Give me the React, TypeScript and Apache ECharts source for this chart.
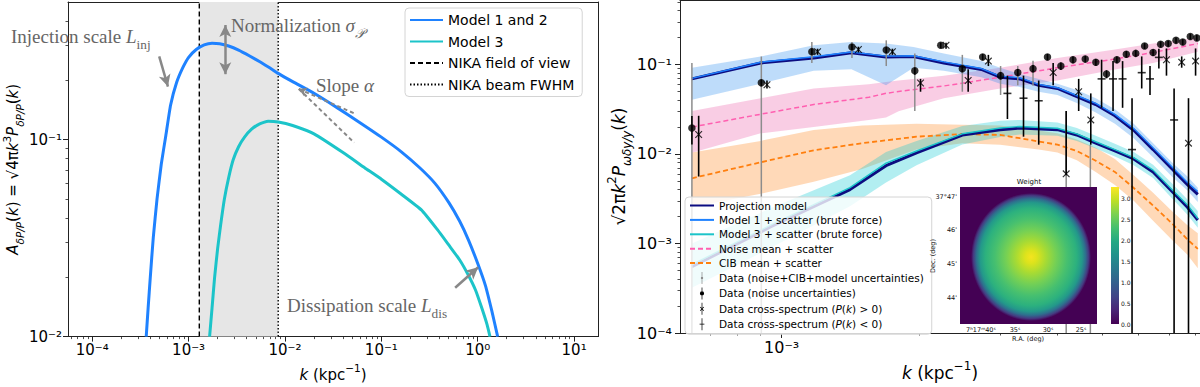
import React, { useEffect, useRef } from 'react';
import * as echarts from 'echarts';

// ---------------- Left panel data ----------------
const leftKMin = 5.6e-5;
const leftKMax = 17.7;
const leftAMin = 0.01;
const leftAMax = 0.5;
const model12K = [3.63e-4, 3.8e-4, 4.0e-4, 4.3e-4, 4.7e-4, 5.2e-4, 5.8e-4, 6.5e-4, 7.5e-4, 8.7e-4, 1.0e-3, 1.2e-3, 1.45e-3, 1.75e-3, 2.1e-3, 2.6e-3, 3.3e-3, 4.3e-3, 5.6e-3, 7.0e-3, 8.5e-3, 0.012, 0.02, 0.035, 0.06, 0.1, 0.16, 0.25, 0.36, 0.5, 0.65, 0.8, 1.0, 1.2, 1.4, 1.61];
const model12A = [0.01, 0.014, 0.02, 0.032, 0.05, 0.075, 0.105, 0.15, 0.195, 0.232, 0.262, 0.287, 0.303, 0.309, 0.307, 0.299, 0.285, 0.266, 0.247, 0.231, 0.217, 0.197, 0.172, 0.145, 0.122, 0.103, 0.087, 0.072, 0.06, 0.048, 0.0385, 0.031, 0.0235, 0.0182, 0.0135, 0.01];
const model3K = [1.65e-3, 1.75e-3, 1.86e-3, 2.0e-3, 2.15e-3, 2.35e-3, 2.6e-3, 2.9e-3, 3.3e-3, 3.8e-3, 4.5e-3, 5.4e-3, 6.7e-3, 8.5e-3, 0.012, 0.02, 0.04, 0.07, 0.1, 0.16, 0.26, 0.38, 0.5, 0.65, 0.8, 0.95, 1.1, 1.25, 1.34];
const model3A = [0.01, 0.014, 0.02, 0.028, 0.037, 0.05, 0.064, 0.079, 0.092, 0.103, 0.113, 0.12, 0.124, 0.123, 0.118, 0.107, 0.086, 0.071, 0.063, 0.053, 0.044, 0.035, 0.0292, 0.0245, 0.0205, 0.0172, 0.014, 0.0115, 0.01];
const fovK = 1.29e-3;
const beamK = 8.5e-3;
const leftXTicks = [1e-4, 1e-3, 1e-2, 1e-1, 1, 10];
const leftYTicks = [1e-2, 1e-1];

// ---------------- Right panel data ----------------
const rightKMin = 6.0e-4;
const rightKMax = 8.19e-3;
const rightYMin = 1e-4;
const rightYMax = 0.525;
const rightXTicks = [1e-3];
const rightYTicks = [1e-4, 1e-3, 1e-2, 1e-1];

// projection model (upper) and Model 1
const upK = [6.37e-4, 9.0e-4, 1.175e-3, 1.42e-3, 1.69e-3, 1.94e-3, 2.26e-3, 2.73e-3, 3.0e-3, 3.31e-3, 3.64e-3, 4.0e-3, 4.41e-3, 4.85e-3, 5.34e-3, 5.87e-3, 6.47e-3, 7.11e-3, 7.69e-3, 8.1e-3];
const projUpV = [0.069, 0.104, 0.118, 0.135, 0.121, 0.123, 0.104, 0.088, 0.072, 0.069, 0.0585, 0.0539, 0.0438, 0.0357, 0.0267, 0.0184, 0.0112, 0.00684, 0.00453, 0.00353];
const model1V = [0.07, 0.106, 0.122, 0.138, 0.124, 0.125, 0.107, 0.09, 0.074, 0.071, 0.06, 0.055, 0.045, 0.0368, 0.0277, 0.0192, 0.0117, 0.0072, 0.0048, 0.0038];
const model1Hi = [0.092, 0.123, 0.164, 0.178, 0.171, 0.157, 0.133, 0.109, 0.092, 0.078, 0.069, 0.061, 0.0517, 0.042, 0.0315, 0.0217, 0.0132, 0.0081, 0.0056, 0.0042];
const model1Lo = [0.0404, 0.061, 0.0848, 0.0883, 0.0585, 0.092, 0.0848, 0.072, 0.061, 0.056, 0.0496, 0.0456, 0.0372, 0.029, 0.0217, 0.015, 0.0092, 0.0056, 0.0039, 0.0029];

// projection model (lower) and Model 3
const lowK = [6.37e-4, 9.5e-4, 1.41e-3, 1.69e-3, 1.97e-3, 2.48e-3, 3.0e-3, 3.31e-3, 4.0e-3, 4.41e-3, 4.85e-3, 5.34e-3, 5.87e-3, 6.47e-3, 7.11e-3, 7.69e-3, 8.1e-3];
const projLowV = [5.5e-4, 1.55e-3, 4.0e-3, 7.4e-3, 0.0103, 0.0163, 0.0187, 0.0195, 0.0187, 0.0163, 0.0132, 0.0108, 0.0088, 0.0063, 0.00384, 0.00254, 0.00183];
const model3V = [5.8e-4, 1.62e-3, 4.2e-3, 7.9e-3, 0.0108, 0.0168, 0.0195, 0.0203, 0.0194, 0.0168, 0.0137, 0.0112, 0.0091, 0.0066, 0.004, 0.0027, 0.0019];
const model3Hi = [1.0e-3, 2.5e-3, 5.8e-3, 0.0105, 0.014, 0.0205, 0.0235, 0.024, 0.0225, 0.0195, 0.016, 0.013, 0.0105, 0.0076, 0.0047, 0.0031, 0.0023];
const model3Lo = [3.2e-4, 9e-4, 2.6e-3, 4.8e-3, 7.5e-3, 0.0128, 0.0155, 0.0165, 0.016, 0.014, 0.0115, 0.0094, 0.0075, 0.0054, 0.0032, 0.0021, 0.0015];

// noise
const noiseK = [6.37e-4, 9.0e-4, 1.175e-3, 1.55e-3, 1.69e-3, 1.8e-3, 2.26e-3, 3.0e-3, 4.0e-3, 5.34e-3, 6.47e-3, 8.1e-3];
const noiseV = [0.02, 0.0278, 0.0357, 0.043, 0.0476, 0.05, 0.0575, 0.072, 0.092, 0.115, 0.136, 0.171];
const noiseHi = [0.0302, 0.042, 0.054, 0.06, 0.0635, 0.066, 0.075, 0.092, 0.118, 0.147, 0.171, 0.2];
const noiseLo = [0.0103, 0.017, 0.02, 0.024, 0.0255, 0.03, 0.042, 0.054, 0.066, 0.088, 0.104, 0.139];

// CIB
const cibK = [6.37e-4, 9.0e-4, 1.175e-3, 1.5e-3, 1.97e-3, 2.48e-3, 3.0e-3, 3.31e-3, 3.64e-3, 4.0e-3, 4.41e-3, 4.85e-3, 5.34e-3, 5.87e-3, 6.47e-3, 7.11e-3, 7.69e-3, 8.1e-3];
const cibV = [5.35e-3, 8.07e-3, 0.011, 0.0132, 0.0156, 0.0167, 0.0163, 0.015, 0.0138, 0.0127, 0.0108, 8.4e-3, 6.3e-3, 4.17e-3, 2.65e-3, 1.68e-3, 1.11e-3, 8.7e-4];
const cibHi = [0.0104, 0.014, 0.0185, 0.0208, 0.0218, 0.0212, 0.0208, 0.0195, 0.0183, 0.017, 0.0145, 0.0117, 0.0088, 0.0058, 0.0037, 0.0023, 0.0016, 0.0013];
const cibLo = [0.00255, 0.0036, 0.0049, 0.0068, 0.0112, 0.0132, 0.0127, 0.0119, 0.0112, 0.0104, 0.0085, 0.0063, 0.0045, 0.003, 0.0018, 0.0011, 0.00075, 0.00053];

// data (noise uncertainties)
const dotK = [6.37e-4, 9.03e-4, 1.164e-3, 1.424e-3, 1.692e-3, 1.953e-3, 2.225e-3, 2.48e-3, 2.747e-3, 3.006e-3, 3.277e-3, 3.538e-3, 3.805e-3, 4.07e-3, 4.325e-3, 4.6e-3, 4.852e-3, 5.12e-3, 5.393e-3, 5.655e-3, 5.93e-3, 6.2e-3, 6.47e-3, 6.72e-3, 6.98e-3, 7.26e-3, 7.51e-3, 7.8e-3, 8.06e-3];
const dotV = [0.0195, 0.0625, 0.139, 0.157, 0.145, 0.0848, 0.164, 0.0898, 0.121, 0.075, 0.0813, 0.0898, 0.121, 0.096, 0.113, 0.115, 0.106, 0.078, 0.113, 0.13, 0.133, 0.161, 0.136, 0.168, 0.171, 0.186, 0.178, 0.205, 0.198];
const dotLo = [0.0128, 0.057, 0.128, 0.145, 0.134, 0.077, 0.152, 0.082, 0.111, 0.068, 0.074, 0.082, 0.111, 0.087, 0.103, 0.105, 0.097, 0.07, 0.103, 0.119, 0.122, 0.149, 0.124, 0.155, 0.158, 0.172, 0.164, 0.19, 0.183];
const dotHi = [0.0265, 0.068, 0.15, 0.169, 0.156, 0.092, 0.176, 0.097, 0.131, 0.082, 0.089, 0.098, 0.131, 0.105, 0.123, 0.125, 0.115, 0.086, 0.123, 0.141, 0.144, 0.173, 0.148, 0.181, 0.184, 0.2, 0.192, 0.22, 0.213];

// data (noise+CIB+model uncertainties)
const grayK = [6.37e-4, 9.03e-4, 1.164e-3, 1.424e-3, 1.692e-3, 1.953e-3, 2.48e-3, 3.006e-3, 3.277e-3, 3.538e-3, 4.18e-3, 4.72e-3];
const grayLo = [1e-4, 1e-4, 0.104, 0.118, 0.096, 0.0302, 0.0496, 0.0456, 0.0585, 0.058, 1e-4, 1e-4];
const grayHi = [0.104, 0.123, 0.178, 0.178, 0.186, 0.133, 0.128, 0.096, 0.096, 0.11, 0.03, 0.0127];

// cross-spectrum P(k) > 0
const posK = [6.59e-4, 9.29e-4, 1.198e-3, 1.471e-3, 1.745e-3, 2.01e-3, 2.285e-3, 2.554e-3, 2.827e-3, 3.915e-3, 4.18e-3, 4.451e-3, 4.73e-3, 6.92e-3, 7.47e-3, 7.73e-3, 8.01e-3];
const posV = [0.0165, 0.0594, 0.139, 0.147, 0.139, 0.062, 0.164, 0.0662, 0.109, 0.0813, 0.006, 0.0496, 0.024, 0.113, 0.106, 0.0132, 0.109];
const posLo = [0.0056, 0.054, 0.128, 0.136, 0.128, 0.0496, 0.15, 0.0496, 0.096, 0.0585, 0.0058, 0.0302, 0.0127, 0.075, 0.092, 1e-4, 0.075];
const posHi = [0.0267, 0.066, 0.15, 0.158, 0.15, 0.069, 0.175, 0.0883, 0.128, 0.104, 0.0302, 0.069, 0.0475, 0.151, 0.123, 0.042, 0.151];

// cross-spectrum P(k) < 0
const negK = [3.111e-3, 3.373e-3, 3.641e-3, 4.994e-3, 5.29e-3, 5.55e-3, 5.82e-3, 6.11e-3, 6.37e-3, 6.66e-3, 7.19e-3];
const negV = [0.0475, 0.042, 0.0393, 0.069, 0.069, 0.069, 0.0112, 0.081, 0.069, 0.12, 0.024];
const negLo = [0.0246, 0.0156, 0.0127, 0.0328, 0.0302, 0.0328, 1e-4, 0.0539, 0.0456, 0.09, 1e-4];
const negHi = [0.075, 0.075, 0.0662, 0.113, 0.109, 0.109, 0.042, 0.123, 0.096, 0.15, 0.0539];

// inset colorbar tick labels
const cbarTicks = ['0.0', '0.5', '1.0', '1.5', '2.0', '2.5', '3.0'];

// ---------------- helpers ----------------
const SUP: Record<string, string> = { '-': '⁻', '0': '⁰', '1': '¹', '2': '²', '3': '³', '4': '⁴', '5': '⁵', '6': '⁶', '7': '⁷', '8': '⁸', '9': '⁹' };
const pow10Label = (v: number) => {
  const e = Math.round(Math.log10(v));
  return '10' + String(e).split('').map((c) => SUP[c]).join('');
};

function minorVals(lo: number, hi: number): number[] {
  const out: number[] = [];
  for (let e = Math.floor(Math.log10(lo)); e <= Math.ceil(Math.log10(hi)); e++) {
    for (let m = 2; m <= 9; m++) {
      const v = m * Math.pow(10, e);
      if (v > lo * 1.0001 && v < hi * 0.9999) out.push(v);
    }
  }
  return out;
}

const FONT = 'DejaVu Sans';
function richFor(fs: number, color = '#000', fam = FONT) {
  return {
    n: { fontSize: fs, fontFamily: fam, color, fill: color, lineHeight: fs * 1.6, verticalAlign: 'middle' },
    i: { fontSize: fs, fontFamily: fam, color, fill: color, fontStyle: 'italic', lineHeight: fs * 1.6, verticalAlign: 'middle' },
    s: { fontSize: fs * 0.7, fontFamily: fam, color, fill: color, fontStyle: 'italic', lineHeight: fs * 0.75, verticalAlign: 'bottom' },
    r: { fontSize: fs * 0.7, fontFamily: fam, color, fill: color, lineHeight: fs * 0.75, verticalAlign: 'bottom' },
    p: { fontSize: fs * 0.7, fontFamily: fam, color, fill: color, lineHeight: fs * 0.75, verticalAlign: 'top' },
  };
}

function axesFor(kind: 'x' | 'y', grid: number, min: number, max: number, major: number[], fs: number, name: string, nameGap: number, nameFs: number, margin: number) {
  const base: any = { type: 'log', logBase: 10, gridIndex: grid, min, max, splitLine: { show: false }, minorTick: { show: false }, minorSplitLine: { show: false } };
  const p1 = kind === 'x' ? 'bottom' : 'left';
  const p2 = kind === 'x' ? 'top' : 'right';
  return [
    {
      ...base, position: p1,
      axisLine: { show: true, onZero: false, lineStyle: { color: '#222', width: 1 } },
      axisTick: { show: true, customValues: major, length: 5, lineStyle: { color: '#222', width: 1 } },
      axisLabel: { show: true, customValues: major, formatter: pow10Label, fontSize: fs, color: '#000', margin, fontFamily: FONT },
      name, nameLocation: 'middle', nameGap, nameRotate: kind === 'y' ? 90 : 0,
      nameTextStyle: { rich: richFor(nameFs) },
    },
    {
      ...base, position: p1,
      axisLine: { show: false },
      axisTick: { show: true, customValues: minorVals(min, max), length: 2.5, lineStyle: { color: '#222', width: 0.8 } },
      axisLabel: { show: false },
    },
    {
      ...base, position: p2,
      axisLine: { show: true, onZero: false, lineStyle: { color: '#222', width: 1 } },
      axisTick: { show: false },
      axisLabel: { show: false },
    },
  ];
}

const zip = (a: number[], b: number[]) => a.map((k, i) => [k, b[i]]);

function bandSeries(ks: number[], lo: number[], hi: number[], color: string) {
  return {
    type: 'custom', xAxisIndex: 3, yAxisIndex: 3, z: 1, silent: true, clip: true,
    data: ks.map((k, i) => [k, lo[i], hi[i]]),
    encode: { x: 0, y: [1, 2] },
    renderItem: (params: any, api: any) => {
      if (params.dataIndex !== 0) return null;
      const pts: number[][] = [];
      for (let i = 0; i < ks.length; i++) pts.push(api.coord([ks[i], hi[i]]));
      for (let i = ks.length - 1; i >= 0; i--) pts.push(api.coord([ks[i], lo[i]]));
      return { type: 'polygon', shape: { points: pts }, style: { fill: color } };
    },
  };
}

function errSeries(name: string, ks: number[], lo: number[], hi: number[], color: string, width: number, z: number) {
  return {
    type: 'custom', name, xAxisIndex: 3, yAxisIndex: 3, z, silent: true, clip: true,
    data: ks.map((k, i) => [k, lo[i], hi[i]]),
    encode: { x: 0, y: [1, 2] },
    renderItem: (_params: any, api: any) => {
      const a = api.coord([api.value(0), api.value(1)]);
      const b = api.coord([api.value(0), api.value(2)]);
      return { type: 'line', shape: { x1: a[0], y1: a[1], x2: b[0], y2: b[1] }, style: { stroke: color, lineWidth: width } };
    },
  };
}

const X_PATH = 'path://M0,1.1L1.1,0L10,8.9L8.9,10Z M8.9,0L10,1.1L1.1,10L0,8.9Z';
const BAR = 'M4.4,0H5.6V20H4.4Z';
const ICON_DOT = 'path://' + BAR + ' M1.5,10 A3.5,3.5 0 1 1 8.5,10 A3.5,3.5 0 1 1 1.5,10 Z';
const ICON_GRAY = 'path://' + BAR + ' M3,10 A2,2 0 1 1 7,10 A2,2 0 1 1 3,10 Z';
const ICON_X = 'path://' + BAR + ' M1.5,7.3 L2.3,6.5 L8.5,12.7 L7.7,13.5 Z M7.7,6.5 L8.5,7.3 L2.3,13.5 L1.5,12.7 Z';
const ICON_MINUS = 'path://' + BAR + ' M1,9.3H9V10.7H1Z';

const BLUE = '#1f82ff';
const TEAL = '#1cc4c9';
const NAVY = '#0c0c80';
const PINK = '#ff5fb0';
const ORANGE = '#ff7f0e';
const ANN = '#666';

const viridis = [
  { offset: 0, color: '#440154' }, { offset: 0.1, color: '#482475' }, { offset: 0.2, color: '#414487' },
  { offset: 0.3, color: '#355f8d' }, { offset: 0.4, color: '#2a788e' }, { offset: 0.5, color: '#21918c' },
  { offset: 0.6, color: '#22a884' }, { offset: 0.7, color: '#44bf70' }, { offset: 0.8, color: '#7ad151' },
  { offset: 0.9, color: '#bddf26' }, { offset: 1, color: '#fde725' },
];

function buildOption(): any {
  const annRich = (fs: number) => richFor(fs, ANN, 'Liberation Serif');
  const annText = (x: number, y: number, text: string) => ({
    type: 'text', x, y, z: 10, silent: true,
    style: { text, fill: ANN, font: '19px "Liberation Serif"', verticalAlign: 'middle', align: 'left', rich: annRich(19) },
  });
  const small = (x: number, y: number, text: string, align = 'center', fs = 6.5, rot = 0) => ({
    type: 'text', x, y, z: 60, silent: true, rotation: rot,
    style: { text, fill: '#111', font: `${fs}px "DejaVu Sans"`, align, verticalAlign: 'middle' },
  });

  const graphic: any[] = [
    annText(11, 36, '{n|Injection scale }{i|L}{r|inj}'),
    annText(231, 25, '{n|Normalization }{i|σ}{s|𝒫}'),
    annText(316, 85, '{n|Slope }{i|α}'),
    annText(287, 305, '{n|Dissipation scale }{i|L}{r|dis}'),
    // inset map
    { type: 'rect', z: 50, silent: true, shape: { x: 960, y: 187, width: 137, height: 137 }, style: { fill: '#440154' } },
    {
      type: 'ellipse', z: 51, silent: true, shape: { cx: 1031, cy: 257, rx: 60, ry: 64 },
      style: {
        fill: new echarts.graphic.RadialGradient(0.5, 0.5, 0.5, [
          { offset: 0, color: '#f4e41f' }, { offset: 0.1, color: '#dde31c' }, { offset: 0.25, color: '#a8db33' },
          { offset: 0.42, color: '#74d055' }, { offset: 0.6, color: '#47c06f' }, { offset: 0.76, color: '#2cb17e' },
          { offset: 0.85, color: '#23998a' }, { offset: 0.91, color: '#2e6f8e' }, { offset: 0.96, color: '#453a81' },
          { offset: 1, color: '#440154' },
        ]),
      },
    },
    { type: 'rect', z: 50, silent: true, shape: { x: 1111, y: 187, width: 8, height: 137 }, style: { fill: new echarts.graphic.LinearGradient(0, 1, 0, 0, viridis) } },
    small(1029, 182, 'Weight', 'center', 7),
    small(957, 197, "37°47'", 'right'),
    small(957, 230, "46'", 'right'),
    small(957, 264, "45'", 'right'),
    small(957, 298, "44'", 'right'),
    small(981, 330, '7ʰ17ᵐ40ˢ'),
    small(1015, 330, '35ˢ'),
    small(1048, 330, '30ˢ'),
    small(1081, 330, '25ˢ'),
    small(1028, 339, 'R.A. (deg)'),
    small(933, 256, 'Dec. (deg)', 'center', 6.5, Math.PI / 2),
    ...cbarTicks.map((t, i) => small(1121, 324 - i * 21, t, 'left', 6)),
  ];

  const leftAxesX = axesFor('x', 0, leftKMin, leftKMax, leftXTicks, 15, '{i|k}{n| (kpc}{p|−1}{n|)}', 20, 15, 6);
  const leftAxesY = axesFor('y', 0, leftAMin, leftAMax, leftYTicks, 15, '{i|A}{s|δP/P}{n|(}{i|k}{n|) = √4π}{i|k}{p|3}{i|P}{s|δP/P}{n|(}{i|k}{n|)}', 36, 15, 6);
  const rightAxesX = axesFor('x', 1, rightKMin, rightKMax, rightXTicks, 16, '{i|k}{n| (kpc}{p|−1}{n|)}', 20, 17, 6);
  const rightAxesY = axesFor('y', 1, rightYMin, rightYMax, rightYTicks, 16, '{n|√2π}{i|k}{p|2}{i|P}{s|ωδy/y}{n|(}{i|k}{n|)}', 36, 17, 8);

  const arrowLine = { color: '#888', width: 2.5, type: 'solid' };
  const series: any[] = [
    // ---- left panel ----
    {
      type: 'line', name: '', xAxisIndex: 0, yAxisIndex: 0, data: [], silent: true, z: 0,
      markArea: { silent: true, itemStyle: { color: '#e6e6e6' }, data: [[{ xAxis: fovK }, { xAxis: beamK }]] },
    },
    {
      type: 'line', name: 'NIKA field of view', xAxisIndex: 0, yAxisIndex: 0, symbol: 'none', z: 2,
      lineStyle: { color: '#000', width: 1.4, type: [5, 3] }, itemStyle: { color: '#000' },
      data: [[fovK, leftAMin], [fovK, leftAMax]],
    },
    {
      type: 'line', name: 'NIKA beam FWHM', xAxisIndex: 0, yAxisIndex: 0, symbol: 'none', z: 2,
      lineStyle: { color: '#000', width: 1.4, type: [1.5, 2] }, itemStyle: { color: '#000' },
      data: [[beamK, leftAMin], [beamK, leftAMax]],
    },
    {
      type: 'line', name: 'Model 1 and 2', xAxisIndex: 0, yAxisIndex: 0, symbol: 'none', smooth: 0.15, z: 3,
      lineStyle: { color: BLUE, width: 3 }, itemStyle: { color: BLUE },
      data: zip(model12K, model12A),
      markLine: {
        silent: true, symbolSize: [9, 12], label: { show: false }, lineStyle: arrowLine, animation: false,
        data: [
          [{ coord: [4.95e-4, 0.265], symbol: 'none' }, { coord: [6.1e-4, 0.186], symbol: 'arrow' }],
          [{ coord: [2.4e-3, 0.382], symbol: 'arrow' }, { coord: [2.4e-3, 0.215], symbol: 'arrow' }],
          [{ coord: [0.0139, 0.181], symbol: 'arrow', symbolSize: [7, 8], lineStyle: { color: '#888', width: 2, type: [4, 3] } }, { coord: [0.0522, 0.136], symbol: 'none' }],
          [{ coord: [0.0139, 0.181], symbol: 'none', lineStyle: { color: '#888', width: 2, type: [4, 3] } }, { coord: [0.0522, 0.0966], symbol: 'none' }],
          [{ coord: [0.583, 0.0177], symbol: 'none' }, { coord: [1.01, 0.0225], symbol: 'arrow' }],
        ],
      },
    },
    {
      type: 'line', name: 'Model 3', xAxisIndex: 0, yAxisIndex: 0, symbol: 'none', smooth: 0.15, z: 3,
      lineStyle: { color: TEAL, width: 3 }, itemStyle: { color: TEAL },
      data: zip(model3K, model3A),
    },
    // ---- right panel ----
    bandSeries(noiseK, noiseLo, noiseHi, 'rgba(236,90,165,0.3)'),
    bandSeries(cibK, cibLo, cibHi, 'rgba(255,140,40,0.33)'),
    bandSeries(upK, model1Lo, model1Hi, 'rgba(40,140,240,0.3)'),
    bandSeries(lowK, model3Lo, model3Hi, 'rgba(0,200,210,0.3)'),
    {
      type: 'line', name: 'Noise mean + scatter', xAxisIndex: 3, yAxisIndex: 3, symbol: 'none', z: 3,
      lineStyle: { color: PINK, width: 1.5, type: [5, 3] }, itemStyle: { color: PINK }, data: zip(noiseK, noiseV),
    },
    {
      type: 'line', name: 'CIB mean + scatter', xAxisIndex: 3, yAxisIndex: 3, symbol: 'none', z: 3,
      lineStyle: { color: ORANGE, width: 1.8, type: [5, 3] }, itemStyle: { color: ORANGE }, data: zip(cibK, cibV),
    },
    {
      type: 'line', name: 'Projection model', xAxisIndex: 3, yAxisIndex: 3, symbol: 'none', z: 4,
      lineStyle: { color: NAVY, width: 3 }, itemStyle: { color: NAVY }, data: zip(upK, projUpV),
    },
    {
      type: 'line', name: 'Projection model', xAxisIndex: 3, yAxisIndex: 3, symbol: 'none', z: 4,
      lineStyle: { color: NAVY, width: 3 }, itemStyle: { color: NAVY }, data: zip(lowK, projLowV),
    },
    {
      type: 'line', name: 'Model 1 + scatter (brute force)', xAxisIndex: 3, yAxisIndex: 3, symbol: 'none', z: 5,
      lineStyle: { color: BLUE, width: 1.4 }, itemStyle: { color: BLUE }, data: zip(upK, model1V),
    },
    {
      type: 'line', name: 'Model 3 + scatter (brute force)', xAxisIndex: 3, yAxisIndex: 3, symbol: 'none', z: 5,
      lineStyle: { color: TEAL, width: 1.4 }, itemStyle: { color: TEAL }, data: zip(lowK, model3V),
    },
    errSeries('Data (noise+CIB+model uncertainties)', grayK, grayLo, grayHi, '#8c8c8c', 1.5, 6),
    errSeries('Data (noise uncertainties)', dotK, dotLo, dotHi, '#000', 1.6, 7),
    errSeries('Data cross-spectrum (P(k) > 0)', posK, posLo, posHi, '#000', 1.6, 7),
    errSeries('Data cross-spectrum (P(k) < 0)', negK, negLo, negHi, '#000', 1.6, 7),
    {
      type: 'scatter', name: 'Data (noise uncertainties)', xAxisIndex: 3, yAxisIndex: 3, z: 8, silent: true,
      symbol: 'circle', symbolSize: 7.5, itemStyle: { color: '#000' }, data: zip(dotK, dotV),
    },
    {
      type: 'scatter', name: 'Data cross-spectrum (P(k) > 0)', xAxisIndex: 3, yAxisIndex: 3, z: 8, silent: true,
      symbol: X_PATH, symbolSize: 7.5, itemStyle: { color: '#000' }, data: zip(posK, posV),
    },
    {
      type: 'scatter', name: 'Data cross-spectrum (P(k) < 0)', xAxisIndex: 3, yAxisIndex: 3, z: 8, silent: true,
      symbol: 'rect', symbolSize: [8, 1.6], itemStyle: { color: '#000' }, data: zip(negK, negV),
    },
  ];

  const pkFormatter = (name: string) => {
    if (name.indexOf('P(k)') >= 0) {
      const sign = name.indexOf('>') >= 0 ? '>' : '<';
      return `{n|Data cross-spectrum (}{i|P}{n|(}{i|k}{n|) ${sign} 0)}`;
    }
    return `{n|${name}}`;
  };
  const lineItem = (name: string) => ({ name, itemStyle: { opacity: 0 } });

  return {
    animation: false,
    textStyle: { fontFamily: FONT },
    grid: [
      { left: 68, top: 2, width: 530, height: 341 },
      { left: 680, top: -2, width: 522, height: 346 },
    ],
    xAxis: [...leftAxesX, ...rightAxesX],
    yAxis: [...leftAxesY, ...rightAxesY],
    legend: [
      {
        orient: 'vertical', left: 405, top: 8, z: 20, selectedMode: false,
        itemWidth: 33, itemHeight: 14, itemGap: 7.5, padding: [5, 8, 5, 4],
        backgroundColor: 'rgba(255,255,255,0.85)', borderColor: '#d4d4d4', borderWidth: 1, borderRadius: 4,
        textStyle: { fontSize: 14, color: '#000', fontFamily: FONT },
        data: ['Model 1 and 2', 'Model 3', 'NIKA field of view', 'NIKA beam FWHM'].map(lineItem),
      },
      {
        orient: 'vertical', left: 685, top: 197, z: 20, selectedMode: false,
        itemWidth: 24, itemHeight: 12, itemGap: 3.4, padding: [3, 8, 4, 4],
        backgroundColor: 'rgba(255,255,255,0.8)', borderColor: '#d4d4d4', borderWidth: 1, borderRadius: 4,
        textStyle: { fontSize: 10.5, color: '#000', fontFamily: FONT, rich: richFor(10.5) },
        formatter: pkFormatter,
        data: [
          ...['Projection model', 'Model 1 + scatter (brute force)', 'Model 3 + scatter (brute force)', 'Noise mean + scatter', 'CIB mean + scatter'].map(lineItem),
          { name: 'Data (noise+CIB+model uncertainties)', icon: ICON_GRAY, itemStyle: { color: '#8c8c8c' } },
          { name: 'Data (noise uncertainties)', icon: ICON_DOT, itemStyle: { color: '#000' } },
          { name: 'Data cross-spectrum (P(k) > 0)', icon: ICON_X, itemStyle: { color: '#000' } },
          { name: 'Data cross-spectrum (P(k) < 0)', icon: ICON_MINUS, itemStyle: { color: '#000' } },
        ],
      },
    ],
    graphic,
    series,
  };
}

export default function App() {
  const ref = useRef<HTMLDivElement>(null);
  useEffect(() => {
    const chart = echarts.init(ref.current as HTMLDivElement, undefined, { renderer: 'svg' });
    chart.setOption(buildOption());
    return () => chart.dispose();
  }, []);
  return <div ref={ref} style={{ position: 'absolute', left: 0, top: 0, width: 1200, height: 387, background: '#fff' }} />;
}
